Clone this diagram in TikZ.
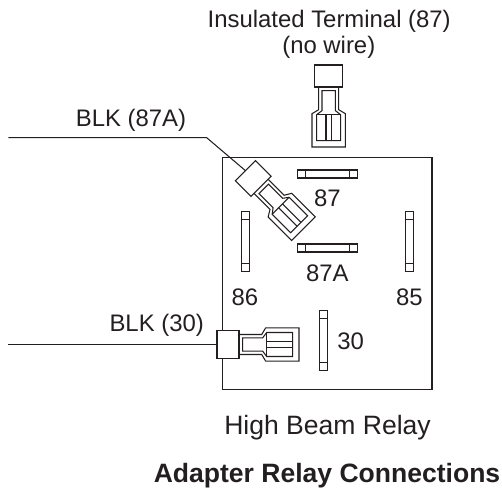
\documentclass[tikz,border=0pt]{standalone}
\usepackage{fontspec}
\setmainfont{Liberation Sans}
\definecolor{inkgrey}{HTML}{231F20}
\tikzset{
  label text/.style={inner sep=0pt, text=inkgrey, font=\fontsize{13.6}{16}\selectfont},
  caption text/.style={inner sep=0pt, text=inkgrey, font=\fontsize{15.1}{18}\selectfont},
  part line/.style={draw=inkgrey, line width=0.6pt},
  pics/terminal/.style={code={
    \draw [part line, fill=white] (0.44,0.2) -- (0.894,0.2) -- (0.974,0.334) -- (1.64,0.334) -- (1.64,-0.334) -- (0.974,-0.334) -- (0.894,-0.2) -- (0.44,-0.2);
    \draw [part line] (0.514,0.134) -- (0.914,0.134) -- (0.994,0.24) -- (1.514,0.24) -- (1.514,-0.24) -- (0.994,-0.24) -- (0.914,-0.134) -- (0.514,-0.134) -- cycle;
    \draw [part line] (0.994,0.24) -- (0.994,-0.24);
    \draw [part line] (0.994,0.054) -- (1.514,0.054);
    \draw [part line] (0.994,-0.054) -- (1.514,-0.054);
    \draw [part line, fill=white] (0,-0.284) rectangle (0.44,0.284);
    \coordinate (-wire) at (0,0);
  }},
  pics/blade/.style={code={
    \draw [part line, fill=white] (-0.6,-0.08) rectangle (0.6,0.08);
    \draw [part line] (-0.44,-0.08) -- (-0.44,0.08);
    \draw [part line] (0.44,-0.08) -- (0.44,0.08);
  }},
}

\begin{document}
\begin{tikzpicture}
        \useasboundingbox (0,0) rectangle (10.04,9.78);

        % Relay body:
        \draw [part line] (4.454,1.996) rectangle (8.64,6.624);

        % Blades:
        \foreach \bx/\by/\ang in {6.554/6.3/0, 6.554/4.82/0, 4.91/4.95/90, 8.194/4.95/90, 6.474/2.963/90}{%
        \pic [rotate=\ang] at (\bx,\by) {blade};
        }

        % Blade labels:
        \node [label text] (pin87) at (6.546,5.82) {87};
        \node [label text] (pin87a) at (6.546,4.32) {87A};
        \node [label text] (pin86) at (4.9,3.84) {86};
        \node [label text] (pin85) at (8.186,3.83) {85};
        \node [label text] (pin30) at (7.014,2.95) {30};

        % Terminals:
        \pic (termtop) [rotate=-90] at (6.574,8.48) {terminal};
        \pic (termleft) [rotate=-45] at (4.91,6.366) {terminal};
        \pic (termlow) at (4.34,2.89) {terminal};

        % Wires:
        \coordinate (wireleft) at (0.166,7.026);
        \coordinate (wirebend) at (4.134,7.026);
        \coordinate (wirelow) at (0.166,2.89);
        \draw [part line] (wireleft) -- (wirebend) -- (termleft-wire);
        \draw [part line] (wirelow) -- (termlow-wire);

        % Wire labels:
        \node [label text] (blkleft) at (2.62,7.364) {BLK (87A)};
        \node [label text] (blklow) at (3.134,3.264) {BLK (30)};
        \node [label text] (instop) at (6.584,9.344) {Insulated Terminal (87)};
        \node [label text] (nowire) at (6.576,8.826) {(no wire)};

        % Captions:
        \node [caption text] (relayname) at (6.55,1.22) {High Beam Relay};
        \node [caption text, font=\fontsize{15.1}{18}\selectfont\bfseries] (pagetitle) at (6.54,0.27) {Adapter Relay Connections};

    \end{tikzpicture}
\end{document}
